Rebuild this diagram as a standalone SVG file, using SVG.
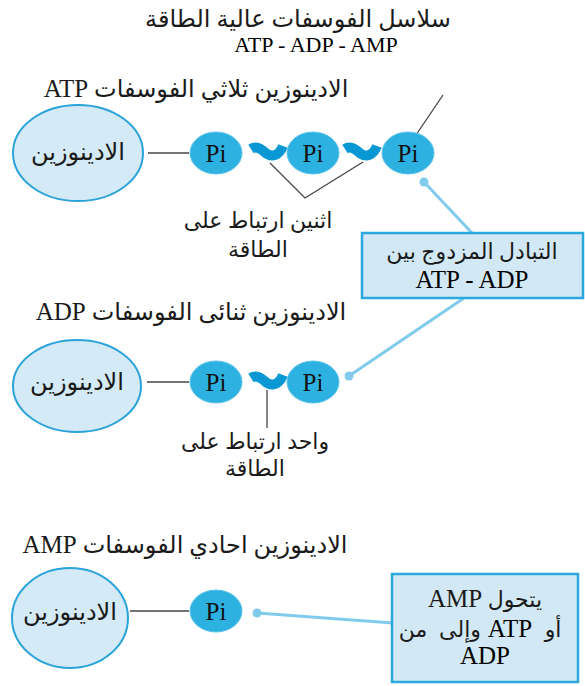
<svg xmlns="http://www.w3.org/2000/svg" width="585" height="686" viewBox="0 0 585 686">
  <style>
    .t { font-family: "Liberation Serif", "DejaVu Sans", serif; font-size: 24px; fill: #1a1a1a; }
    .m { font-size: 22px; }
    .lat { font-family: "Liberation Serif", serif; font-size: 22px; }
    .big { font-size: 25px; }
    .pt { font-family: "Liberation Serif", serif; font-size: 25px; fill: #111; }
    .rtl { direction: rtl; unicode-bidi: embed; }
    .base { fill: #d4eaf6; stroke: #2aa3da; stroke-width: 2; }
    .pi { fill: #2cb1e1; stroke: #5cc4ea; stroke-width: 1; }
    .bond { fill: none; stroke: #0a98d4; stroke-width: 10; stroke-linecap: butt; }
    .link { stroke: #444; stroke-width: 1.3; fill: none; }
    .conn { stroke: #80cbec; stroke-width: 3; fill: none; }
    .dot { fill: #80cbec; }
    .box { fill: #d2e9f5; stroke: #2ba9df; stroke-width: 2.5; }
  </style>

  <!-- heading -->
  <g id="title">
    <text class="t rtl" x="298" y="27" text-anchor="middle">سلاسل الفوسفات عالية الطاقة</text>
    <text class="lat" x="316" y="52" text-anchor="middle">ATP - ADP - AMP</text>
  </g>

  <!-- connectors -->
  <g id="connectors">
    <line class="link" x1="148" y1="153" x2="189" y2="153"/>
    <line class="link" x1="416" y1="135" x2="443" y2="95"/>
    <polyline class="link" points="270,163 305,198 363,162"/>
    <line class="link" x1="147" y1="382" x2="189" y2="382"/>
    <line class="link" x1="267" y1="390" x2="267" y2="428"/>
    <line class="link" x1="130" y1="611" x2="189" y2="611"/>
    <line class="conn" x1="424" y1="182" x2="472" y2="233"/>
    <circle class="dot" cx="424" cy="182" r="4.5"/>
    <line class="conn" x1="464" y1="298" x2="349" y2="376"/>
    <circle class="dot" cx="349" cy="376" r="4.5"/>
    <line class="conn" x1="257" y1="613" x2="393" y2="623"/>
    <circle class="dot" cx="257" cy="613" r="4.5"/>
  </g>

  <!-- ATP -->
  <g id="atp">
    <text class="t rtl" x="196" y="97" text-anchor="middle">الادينوزين ثلاثي الفوسفات <tspan class="lat big">ATP</tspan></text>
    <g id="atp-adenosine">
      <ellipse class="base" cx="78" cy="153" rx="65" ry="48"/>
      <text class="t rtl" x="78" y="160" text-anchor="middle">الادينوزين</text>
    </g>
    <g id="atp-pi1">
      <ellipse class="pi" cx="216" cy="153" rx="26" ry="21"/>
      <text class="pt" x="216" y="162" text-anchor="middle">Pi</text>
    </g>
    <path class="bond" d="M251,149 C257,145 262,150 267,154 C272,157 279,156 283,146"/>
    <g id="atp-pi2">
      <ellipse class="pi" cx="313" cy="153" rx="26" ry="21"/>
      <text class="pt" x="313" y="162" text-anchor="middle">Pi</text>
    </g>
    <path class="bond" d="M345,149 C351,145 356,150 361,154 C366,157 373,156 377,146"/>
    <g id="atp-pi3">
      <ellipse class="pi" cx="408" cy="153" rx="26" ry="21"/>
      <text class="pt" x="408" y="162" text-anchor="middle">Pi</text>
    </g>
    <g id="atp-bonds-label">
      <text class="t m rtl" x="258" y="228" text-anchor="middle">اثنين ارتباط على</text>
      <text class="t m rtl" x="258" y="257" text-anchor="middle">الطاقة</text>
    </g>
  </g>

  <!-- exchange box -->
  <g id="exchange">
    <rect class="box" x="362" y="233" width="221" height="65"/>
    <text class="t m rtl" x="472" y="259" text-anchor="middle">التبادل المزدوج بين</text>
    <text class="lat big" x="472" y="288" text-anchor="middle">ATP - ADP</text>
  </g>

  <!-- ADP -->
  <g id="adp">
    <text class="t rtl" x="191" y="320" text-anchor="middle">الادينوزين ثنائى الفوسفات <tspan class="lat big">ADP</tspan></text>
    <g id="adp-adenosine">
      <ellipse class="base" cx="77" cy="386" rx="64" ry="46"/>
      <text class="t rtl" x="77" y="390" text-anchor="middle">الادينوزين</text>
    </g>
    <g id="adp-pi1">
      <ellipse class="pi" cx="216" cy="382" rx="26" ry="21"/>
      <text class="pt" x="216" y="391" text-anchor="middle">Pi</text>
    </g>
    <path class="bond" d="M251,378 C257,374 262,379 267,383 C272,386 279,385 283,375"/>
    <g id="adp-pi2">
      <ellipse class="pi" cx="313" cy="382" rx="26" ry="21"/>
      <text class="pt" x="313" y="391" text-anchor="middle">Pi</text>
    </g>
    <g id="adp-bond-label">
      <text class="t m rtl" x="255" y="449" text-anchor="middle">واحد ارتباط على</text>
      <text class="t m rtl" x="255" y="476" text-anchor="middle">الطاقة</text>
    </g>
  </g>

  <!-- AMP -->
  <g id="amp">
    <text class="t rtl" x="185" y="553" text-anchor="middle">الادينوزين احادي الفوسفات <tspan class="lat big">AMP</tspan></text>
    <g id="amp-adenosine">
      <ellipse class="base" cx="70" cy="618" rx="58" ry="50"/>
      <text class="t rtl" x="70" y="620" text-anchor="middle">الادينوزين</text>
    </g>
    <g id="amp-pi">
      <ellipse class="pi" cx="216" cy="611" rx="26" ry="21"/>
      <text class="pt" x="216" y="620" text-anchor="middle">Pi</text>
    </g>
  </g>

  <!-- conversion box -->
  <g id="conversion">
    <rect class="box" x="392" y="574" width="186" height="108"/>
    <text class="t m rtl" x="485" y="607" text-anchor="middle">يتحول <tspan class="lat big">AMP</tspan></text>
    <!-- words placed one by one to keep their left-to-right order -->
    <text class="t m" x="413" y="637" text-anchor="middle">من</text>
    <text class="t m" x="460" y="637" text-anchor="middle">وإلى</text>
    <text class="lat big" x="510" y="637" text-anchor="middle">ATP</text>
    <text class="t m" x="553" y="637" text-anchor="middle">أو</text>
    <text class="lat big" x="485" y="664" text-anchor="middle">ADP</text>
  </g>
</svg>
